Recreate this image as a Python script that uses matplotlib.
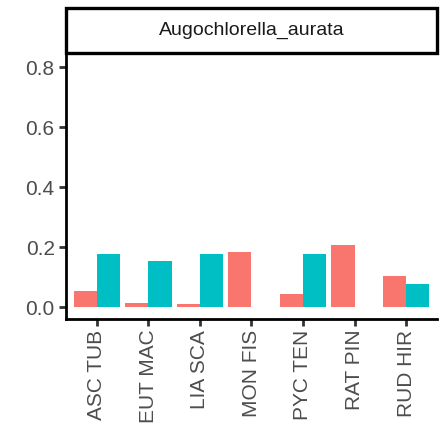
import numpy as np
import matplotlib.pyplot as plt
from matplotlib.patches import Rectangle

plt.rcParams['font.family'] = ['Liberation Sans', 'DejaVu Sans']

# valeurs
categories = ["ASC TUB", "EUT MAC", "LIA SCA", "MON FIS", "PYC TEN", "RAT PIN", "RUD HIR"]
serie_rouge = [0.054, 0.014, 0.011, 0.184, 0.044, 0.208, 0.104]
serie_bleue = [0.178, 0.154, 0.178, 0.0, 0.178, 0.0, 0.078]
yticks = [0.0, 0.2, 0.4, 0.6, 0.8]
titre = "Augochlorella_aurata"

fig = plt.figure(figsize=(4.45, 4.26), dpi=100)
ax = fig.add_axes([0.148, 0.252, 0.834, 0.623])

x = np.arange(1, len(categories) + 1)
w = 0.45
ax.bar(x - w / 2, serie_rouge, width=w, color="#F8766D")
ax.bar(x + w / 2, serie_bleue, width=w, color="#00BFC4")

ax.set_xlim(0.4, 7.6)
ax.set_ylim(-0.038, 0.847)
ax.set_xticks(x)
ax.set_xticklabels(categories, rotation=90, fontsize=15, color="#4D4D4D")
ax.set_yticks(yticks)
ax.set_yticklabels([f"{v:.1f}" for v in yticks], fontsize=15, color="#4D4D4D")
ax.tick_params(length=5, width=2, color="#333333", pad=3)

for s in ["top", "right"]:
    ax.spines[s].set_visible(False)
for s in ["left", "bottom"]:
    ax.spines[s].set_linewidth(2)

# bandeau du facet
strip = Rectangle((0.148, 0.875), 0.834, 0.1055, transform=fig.transFigure,
                  facecolor="white", edgecolor="black", linewidth=2.4)
fig.patches.append(strip)
fig.text(0.148 + 0.834 / 2, 0.875 + 0.1055 / 2, titre, ha="center", va="center",
         fontsize=14, color="#1A1A1A")

fig.savefig("out.png", dpi=100)
